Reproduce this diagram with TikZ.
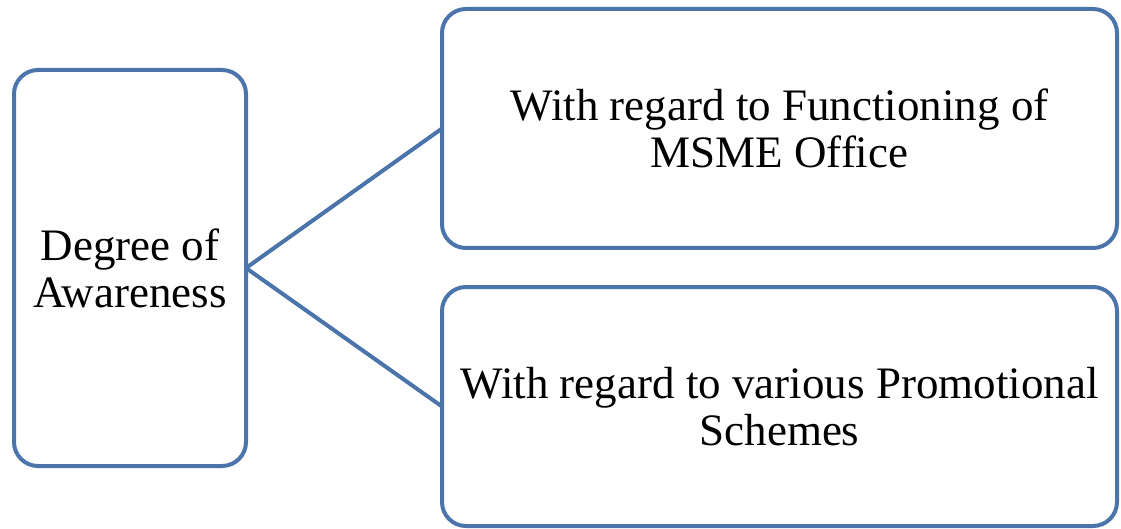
\documentclass[tikz,border=0pt]{standalone}
\usepackage{fontspec}
\setmainfont{Liberation Serif}
\usetikzlibrary{positioning}
\definecolor{xBlue}{RGB}{74,116,170}
\tikzset{
  aspect/.style={draw=xBlue, line width=4pt, rounded corners=24pt, align=center,
                 font=\fontsize{45}{47}\selectfont, inner sep=0pt, outer sep=0pt},
  link/.style={xBlue, line width=4pt},
}

\begin{document}
\begin{tikzpicture}[x=1pt, y=-1pt]
    \useasboundingbox (0,0) rectangle (1121,529);
    \node[aspect, minimum width=232pt, minimum height=396pt] (deg) at (130,268)   {Degree of\\Awareness};
    \node[aspect, minimum width=675pt, minimum height=239pt] (fun) at (779.5,128.5) {With regard to Functioning of\\MSME Office};
    \node[aspect, minimum width=675pt, minimum height=239pt] (pro) at (779.5,406.5) {With regard to various Promotional\\Schemes};
    \draw[link] (deg.east) -- (fun.west);
    \draw[link] (deg.east) -- (pro.west);
  \end{tikzpicture}
\end{document}
